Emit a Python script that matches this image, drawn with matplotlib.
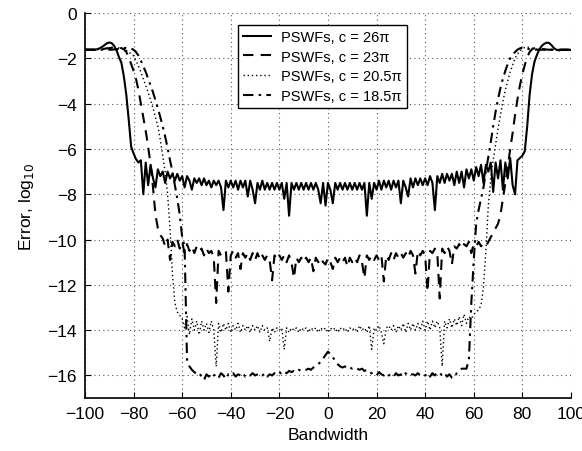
import numpy as np
import matplotlib
matplotlib.use("Agg")
from matplotlib import pyplot as plt

plt.rcParams['font.family'] = ['Liberation Sans', 'DejaVu Sans']

# bandwidth grid, one point per unit
bandwidth = list(range(-100, 101))

# PSWFs, c = 26*pi  (solid)
err_26 = [
    -1.62, -1.62, -1.62, -1.62, -1.62, -1.6, -1.56, -1.5, -1.42, -1.34,      # -100
    -1.3, -1.33, -1.45, -1.65, -1.95, -2.2, -2.8, -3.6, -4.7, -5.9,          # -90
    -6.2, -6.45, -6.6, -6.5, -8.0, -6.6, -7.6, -6.7, -7.3, -7.7,             # -80
    -6.9, -7.2, -7.0, -7.5, -7.0, -7.3, -7.1, -7.4, -7.1, -7.4,              # -70
    -7.2, -7.7, -7.2, -7.4, -7.8, -7.3, -7.5, -7.3, -7.6, -7.3,              # -60
    -7.6, -7.4, -7.7, -7.4, -7.6, -7.4, -7.7, -8.7, -7.4, -7.7,              # -50
    -7.4, -7.7, -7.4, -7.8, -7.4, -7.7, -7.4, -8.1, -7.4, -7.8,              # -40
    -8.4, -7.5, -7.8, -7.4, -7.8, -7.5, -7.8, -7.5, -7.8, -7.5,              # -30
    -7.8, -7.5, -8.2, -7.5, -8.95, -7.5, -7.8, -7.5, -7.8, -7.5,             # -20
    -7.8, -7.5, -7.8, -7.5, -7.8, -7.5, -7.8, -8.4, -7.5, -8.5,              # -10
    -7.5, -7.8, -8.4, -7.5, -7.8, -7.5, -7.8, -7.5, -7.8, -7.5,              # 0
    -7.8, -7.5, -7.8, -7.5, -7.8, -7.5, -8.95, -7.5, -8.2, -7.5,             # 10
    -7.8, -7.4, -7.8, -7.4, -7.7, -7.4, -7.8, -7.4, -7.7, -7.4,              # 20
    -8.4, -7.4, -7.7, -8.1, -7.3, -7.7, -7.3, -7.6, -7.3, -7.6,              # 30
    -7.3, -7.6, -7.2, -7.5, -8.7, -7.2, -7.5, -7.1, -7.5, -7.1,              # 40
    -7.4, -7.1, -7.6, -7.0, -7.5, -7.0, -7.7, -6.9, -7.3, -6.9,              # 50
    -7.4, -6.8, -7.2, -6.7, -7.5, -6.7, -7.0, -6.6, -7.9, -6.6,              # 60
    -7.3, -6.5, -7.8, -6.6, -7.3, -6.4, -7.6, -8.0, -6.5, -6.4,              # 70
    -6.3, -6.1, -5.0, -3.6, -2.7, -2.15, -1.85, -1.6, -1.45, -1.36,          # 80
    -1.31, -1.32, -1.42, -1.55, -1.62, -1.65, -1.63, -1.63, -1.63, -1.63,    # 90
    -1.63,                                                                   # 100
]

# PSWFs, c = 23*pi  (dashed)
err_23 = [
    -1.62, -1.62, -1.62, -1.62, -1.62, -1.62, -1.61, -1.6, -1.58, -1.56,
    -1.55, -1.53, -1.52, -1.52, -1.53, -1.55, -1.6, -1.72, -1.95, -2.25,
    -2.55, -2.9, -3.4, -4.0, -4.6, -5.2, -5.9, -6.7, -7.7, -8.9,
    -9.5, -9.8, -9.95, -10.3, -10.0, -10.9, -10.1, -10.3, -10.0, -10.4,
    -10.1, -10.6, -10.2, -10.5, -10.3, -10.6, -10.3, -10.5, -10.4, -10.7,
    -10.4, -10.6, -10.5, -10.8, -12.8, -10.5, -10.7, -10.6, -10.5, -12.3,
    -10.7, -10.5, -10.8, -10.6, -11.3, -10.6, -10.8, -10.6, -10.9, -10.6,
    -10.9, -10.6, -10.9, -10.7, -10.9, -10.7, -10.9, -11.8, -10.7, -10.9,
    -10.7, -10.9, -10.7, -11.0, -10.7, -11.0, -11.7, -10.8, -11.0, -10.8,
    -11.0, -10.8, -11.0, -10.8, -11.4, -10.8, -11.0, -10.8, -11.0, -11.1,
    -10.8, -11.0, -11.3, -10.8, -11.0, -10.8, -11.0, -10.8, -11.2, -10.8,
    -11.0, -10.8, -11.0, -10.7, -11.0, -11.7, -10.7, -10.9, -10.7, -10.9,
    -10.7, -10.9, -10.7, -11.85, -10.7, -10.9, -10.6, -10.9, -10.6, -10.8,
    -10.6, -10.8, -10.6, -10.8, -10.5, -10.7, -11.5, -10.5, -10.7, -10.5,
    -10.7, -12.3, -10.5, -10.6, -10.4, -10.6, -12.6, -10.4, -10.6, -10.3,
    -10.5, -11.1, -10.3, -10.4, -10.2, -10.4, -10.2, -10.3, -10.1, -10.6,
    -10.2, -10.3, -10.1, -10.3, -10.2, -10.3, -10.1, -9.9, -9.7, -9.5,
    -9.3, -8.9, -8.2, -7.5, -6.8, -6.0, -5.3, -4.5, -3.8, -3.2,
    -2.7, -2.3, -1.95, -1.72, -1.6, -1.55, -1.53, -1.55, -1.58, -1.6,
    -1.61, -1.62, -1.62, -1.62, -1.62, -1.62, -1.62, -1.62, -1.62, -1.62,
    -1.62,
]

# PSWFs, c = 20.5*pi  (dotted)
err_205 = [
    -1.62, -1.62, -1.62, -1.62, -1.62, -1.62, -1.61, -1.6, -1.58, -1.56,
    -1.55, -1.54, -1.53, -1.53, -1.54, -1.56, -1.6, -1.65, -1.72, -1.8,
    -1.9, -2.1, -2.35, -2.6, -2.9, -3.2, -3.5, -3.85, -4.2, -4.6,
    -5.0, -5.6, -6.3, -7.0, -8.0, -9.5, -11.5, -12.8, -13.2, -13.35,
    -13.5, -13.9, -13.4, -14.2, -13.5, -14.0, -13.6, -14.2, -13.6, -14.0,
    -13.7, -14.1, -13.6, -14.0, -15.6, -13.7, -14.1, -13.7, -14.0, -13.7,
    -14.1, -13.8, -14.0, -13.7, -14.1, -13.8, -14.0, -13.8, -14.1, -13.8,
    -14.0, -13.8, -14.1, -13.8, -14.0, -13.9, -14.5, -13.9, -14.1, -13.9,
    -14.0, -13.9, -14.85, -13.9, -14.1, -13.9, -14.0, -13.9, -14.1, -13.9,
    -14.0, -13.9, -14.1, -13.9, -14.0, -13.9, -14.1, -13.9, -14.0, -13.9,
    -14.1, -13.9, -14.0, -13.9, -14.1, -13.9, -14.0, -13.9, -14.1, -13.9,
    -14.0, -13.9, -14.1, -13.8, -14.0, -13.9, -14.1, -13.8, -14.85, -13.9,
    -14.0, -13.8, -14.1, -14.6, -13.9, -13.8, -14.0, -13.8, -14.1, -13.8,
    -14.0, -13.7, -14.1, -13.7, -14.0, -13.7, -14.0, -13.7, -14.0, -13.6,
    -14.0, -13.6, -14.0, -13.6, -13.9, -13.6, -13.9, -15.6, -13.6, -13.9,
    -13.5, -13.9, -13.5, -13.8, -13.4, -13.8, -13.3, -13.7, -13.4, -13.5,
    -13.3, -13.2, -13.1, -12.9, -12.1, -10.5, -8.5, -7.3, -6.5, -5.8,
    -5.1, -4.5, -3.9, -3.4, -3.0, -2.6, -2.3, -2.0, -1.8, -1.68,
    -1.58, -1.52, -1.5, -1.52, -1.55, -1.58, -1.6, -1.62, -1.62, -1.62,
    -1.62, -1.62, -1.62, -1.62, -1.62, -1.62, -1.62, -1.62, -1.62, -1.62,
    -1.62,
]

# PSWFs, c = 18.5*pi  (dash-dot)
err_185 = [
    -1.62, -1.62, -1.62, -1.62, -1.62, -1.62, -1.62, -1.62, -1.62, -1.62,
    -1.62, -1.62, -1.61, -1.6, -1.58, -1.56, -1.55, -1.54, -1.55, -1.57,
    -1.62, -1.72, -1.88, -2.1, -2.35, -2.6, -2.9, -3.2, -3.5, -3.85,
    -4.2, -4.6, -5.0, -5.45, -5.95, -6.5, -7.0, -7.6, -8.2, -8.9,
    -9.9, -10.3, -15.3, -15.6, -15.75, -15.85, -15.95, -15.9, -16.05, -16.2,
    -15.95, -16.05, -15.9, -16.0, -15.95, -16.1, -15.9, -16.0, -16.15, -15.95,
    -16.0, -15.9, -16.05, -15.95, -16.0, -15.9, -16.05, -15.95, -16.0, -15.9,
    -16.0, -15.95, -15.9, -16.0, -15.9, -16.05, -15.95, -16.0, -15.9, -15.95,
    -15.85, -15.95, -15.85, -15.9, -15.8, -15.85, -15.8, -15.85, -15.75, -15.8,
    -15.75, -15.75, -15.7, -15.75, -15.65, -15.6, -15.5, -15.4, -15.25, -15.1,
    -14.95, -15.05, -15.2, -15.35, -15.5, -15.6, -15.65, -15.6, -15.7, -15.65,
    -15.7, -15.65, -15.7, -15.75, -15.7, -15.8, -15.75, -15.85, -15.9, -16.0,
    -16.0, -15.85, -15.95, -16.0, -15.9, -16.0, -15.95, -16.05, -15.9, -16.0,
    -15.95, -16.05, -15.9, -16.0, -15.95, -15.95, -16.0, -15.9, -16.0, -15.95,
    -16.0, -15.9, -16.05, -15.9, -16.0, -15.85, -15.9, -16.0, -15.9, -16.05,
    -15.95, -16.1, -16.1, -15.9, -15.8, -15.7, -15.7, -15.7, -15.3, -12.8,
    -10.9, -9.3, -8.7, -8.2, -7.7, -7.0, -6.35, -5.7, -5.0, -4.35,
    -3.8, -3.3, -2.9, -2.55, -2.25, -2.0, -1.85, -1.72, -1.62, -1.56,
    -1.53, -1.54, -1.57, -1.6, -1.62, -1.62, -1.62, -1.62, -1.62, -1.62,
    -1.62, -1.62, -1.62, -1.62, -1.62, -1.62, -1.62, -1.62, -1.62, -1.62,
    -1.62,
]

labels = ['PSWFs, c = 26π', 'PSWFs, c = 23π', 'PSWFs, c = 20.5π', 'PSWFs, c = 18.5π']
xticks = list(range(-100, 101, 20))
yticks = list(range(-16, 1, 2))

fig = plt.figure(figsize=(5.82, 4.52), dpi=100)
ax = fig.add_axes([0.146, 0.117, 0.835, 0.852])

ax.plot(bandwidth, err_26, color='black', lw=1.5, ls='-', label=labels[0])
ax.plot(bandwidth, err_23, color='black', lw=1.5, ls=(0, (5, 3.5)), label=labels[1])
ax.plot(bandwidth, err_205, color='black', lw=1.0, ls=(0, (1, 2)), label=labels[2])
ax.plot(bandwidth, err_185, color='black', lw=1.5, ls=(0, (5, 2.5, 1.2, 2.5)), label=labels[3])

ax.set_xlim(-100, 100)
ax.set_ylim(-17, 0)
ax.set_xticks(xticks)
ax.set_yticks(yticks)
ax.grid(True, ls=(0, (1, 3)), color='#555555', lw=0.8)
ax.spines['top'].set_visible(False)
ax.spines['right'].set_visible(False)
ax.spines['left'].set_linewidth(1.2)
ax.spines['bottom'].set_linewidth(1.2)
ax.tick_params(direction='in', length=4, labelsize=12.5, pad=6)

ax.set_xlabel('Bandwidth', fontsize=12.5, labelpad=4)
ax.set_ylabel('Error, log$_{10}$', fontsize=12.5, labelpad=8)

leg = ax.legend(loc='upper left', bbox_to_anchor=(0.315, 0.969), borderaxespad=0,
                fontsize=10.5, frameon=True, fancybox=False, edgecolor='black',
                framealpha=1, handlelength=1.9, borderpad=0.35, labelspacing=0.38,
                handletextpad=0.7)
leg.get_frame().set_linewidth(1.0)

plt.savefig('out.png', dpi=100)
